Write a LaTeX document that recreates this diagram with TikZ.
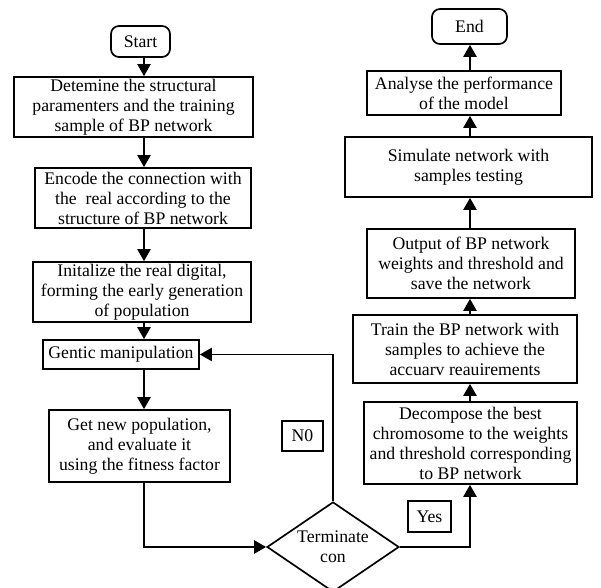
\documentclass[tikz,border=0pt]{standalone}
\usepackage{fontspec}
\setmainfont{Liberation Serif}
\usetikzlibrary{shapes.geometric,arrows.meta}
\tikzset{
  stepbox/.style={draw,line width=1.2pt,align=center,inner sep=0pt,
    font=\fontsize{12.6}{14.2}\selectfont},
  endsbox/.style={stepbox,rounded corners=2mm},
  tagbox/.style={stepbox},
  decide/.style={stepbox,diamond,aspect=1.47},
  flow/.style={line width=1.2pt,-{Triangle[length=3mm,width=3.3mm]}}
}
\begin{document}
\begin{tikzpicture}[x=0.25mm,y=-0.25mm]
\useasboundingbox (0,0) rectangle (601,588);
  \coordinate (lc) at (144,0);
  \coordinate (rc) at (470,0);

  \node[endsbox,minimum width=14.75mm,minimum height=7.75mm] (start) at (140.5,41.5) {Start};
  \node[stepbox,minimum width=59.75mm,minimum height=15mm] (det) at (133.5,107)
      {Detemine the structural\\paramenters and the training\\sample of BP network};
  \node[stepbox,minimum width=54mm,minimum height=15mm] (enc) at (143,198)
      {Encode the connection with\\the\ \ real according to the\\structure of BP network};
  \node[stepbox,minimum width=54.5mm,minimum height=15mm] (init) at (142,292)
      {Initalize the real digital,\\forming the early generation\\of population};
  \node[stepbox,minimum width=39mm,minimum height=7.25mm] (gen) at (121,354.5) {Gentic manipulation};
  \node[stepbox,minimum width=45.25mm,minimum height=18mm] (eval) at (139.5,446)
      {Get new population,\\and evaluate it\\using the fitness factor};
  \node[tagbox,minimum width=10.25mm,minimum height=7.5mm] (no) at (302.5,436) {N0};
  \node[decide,minimum width=33mm,minimum height=22.5mm] (term) at (333,547) {Terminate\\con};
  \node[tagbox,minimum width=10.75mm,minimum height=7.75mm] (yes) at (429.5,516.5) {Yes};

  \node[stepbox,minimum width=53.25mm,minimum height=20.5mm] (dec) at (470.5,443)
      {Decompose the best\\chromosome to the weights\\and threshold corresponding\\to BP network};
  \node[stepbox,minimum width=56mm,minimum height=17mm] (train) at (465,349)
      {Train the BP network with\\samples to achieve the\\accuarv reauirements};
  \node[stepbox,minimum width=52mm,minimum height=17.25mm] (out) at (471,263.5)
      {Output of BP network\\weights and threshold and\\save the network};
  \node[stepbox,minimum width=61.75mm,minimum height=15mm] (sim) at (468.5,167)
      {Simulate network with\\samples testing};
  \node[stepbox,minimum width=48.5mm,minimum height=11mm] (ana) at (464,93)
      {Analyse the performance\\of the model};
  \node[endsbox,minimum width=18.75mm,minimum height=8.75mm] (end) at (469.5,26.5) {End};

\draw[flow] (start.south -| lc) -- (det.north -| lc);
\draw[flow] (det.south -| lc) -- (enc.north -| lc);
\draw[flow] (enc.south -| lc) -- (init.north -| lc);
\draw[flow] (init.south -| lc) -- (gen.north -| lc);
\draw[flow] (gen.south -| lc) -- (eval.north -| lc);
\draw[flow] (eval.south -| lc) |- (term.west);
\draw[flow] (term.north) |- (gen.east);
\draw[flow] (term.east) -| (dec.south -| rc);
\draw[flow] (dec.north -| rc) -- (train.south -| rc);
\draw[flow] (train.north -| rc) -- (out.south -| rc);
\draw[flow] (out.north -| rc) -- (sim.south -| rc);
\draw[flow] (sim.north -| rc) -- (ana.south -| rc);
\draw[flow] (ana.north -| rc) -- (end.south -| rc);
\end{tikzpicture}
\end{document}
